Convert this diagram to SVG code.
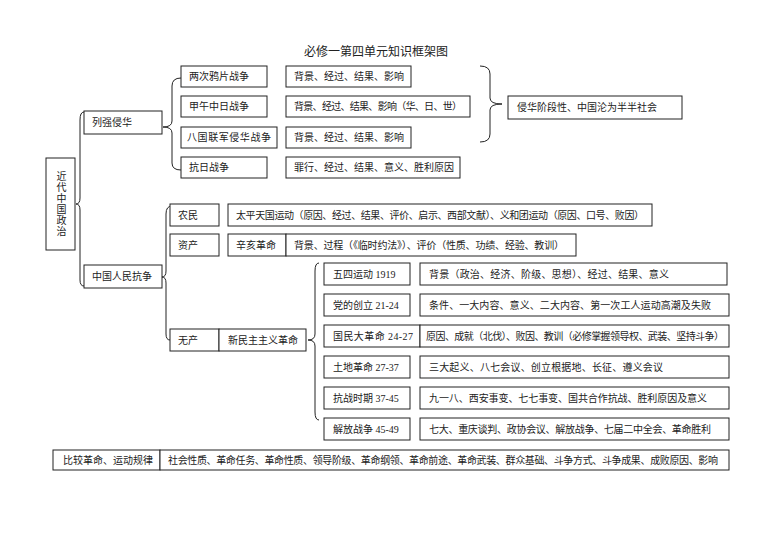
<svg xmlns="http://www.w3.org/2000/svg" width="780" height="552" viewBox="0 0 780 552">
<style>
rect{fill:#fff;stroke:#222;stroke-width:1}
text{font-family:"Liberation Serif","Noto Sans CJK SC",serif;font-size:10px;fill:#222;dominant-baseline:central}
.b{fill:none;stroke:#222;stroke-width:1}
</style>
<rect x="0" y="0" width="780" height="552" style="fill:#fff;stroke:none"/>
<text x="376" y="52" text-anchor="middle" style="font-size:12px">必修一第四单元知识框架图</text>
<g id="connectors">
<path class="b" d="M84,112 Q80,112 80,120 L80,198 Q80,204 76,204 Q80,204 80,210 L80,280 Q80,286 84,286"/>
<path class="b" d="M181,78 Q172,78 172,86 L172,121 Q172,127 163,127 Q172,127 172,133 L172,163 Q172,170 181,170"/>
<path class="b" d="M480,66 Q490,66 490,74 L490,98 Q490,104 502,104 Q490,104 490,110 L490,134 Q490,142 480,142"/>
<path class="b" d="M172,206 Q166,206 166,214 L166,271 Q166,277 162,277 Q166,277 166,283 L166,334 Q166,340 170,340"/>
<path class="b" d="M319,263 Q315,263 315,271 L315,334 Q315,340 308,340 Q315,340 315,346 L315,412 Q315,420 319,420"/>
</g>
<g id="n0"><rect x="46" y="158" width="29" height="92"/><text x="60.5" y="204" text-anchor="middle" writing-mode="tb" style="letter-spacing:1px;dominant-baseline:auto">近代中国政治</text></g>
<g id="n1"><rect x="84" y="111" width="78" height="23"/><text x="92" y="122.5">列强侵华</text></g>
<g id="n2"><rect x="84" y="265" width="78" height="23"/><text x="92" y="276.5">中国人民抗争</text></g>
<g id="a1"><rect x="181" y="66" width="86" height="21"/><text x="189" y="76.5">两次鸦片战争</text></g>
<g id="a2"><rect x="181" y="96" width="86" height="21"/><text x="189" y="106.5">甲午中日战争</text></g>
<g id="a3"><rect x="181" y="127" width="96" height="21"/><text x="187" y="137.5" textLength="84">八国联军侵华战争</text></g>
<g id="a4"><rect x="181" y="157" width="86" height="21"/><text x="189" y="167.5">抗日战争</text></g>
<g id="b1"><rect x="286" y="66" width="125" height="21"/><text x="294" y="76.5">背景、经过、结果、影响</text></g>
<g id="b2"><rect x="286" y="96" width="184" height="21"/><text x="294" y="106.5" textLength="168">背景、经过、结果、影响（华、日、世）</text></g>
<g id="b3"><rect x="286" y="127" width="125" height="21"/><text x="294" y="137.5">背景、经过、结果、影响</text></g>
<g id="b4"><rect x="286" y="157" width="174" height="21"/><text x="294" y="167.5">罪行、经过、结果、意义、胜利原因</text></g>
<g id="c1"><rect x="508" y="96" width="174" height="23"/><text x="517" y="107.5">侵华阶段性、中国沦为半半社会</text></g>
<g id="d1"><rect x="170" y="204" width="49" height="22"/><text x="178" y="215">农民</text></g>
<g id="d1b"><rect x="228" y="204" width="424" height="22"/><text x="236" y="215" textLength="408">太平天国运动（原因、经过、结果、评价、启示、西部文献）、义和团运动（原因、口号、败因）</text></g>
<g id="d2"><rect x="170" y="234" width="49" height="22"/><text x="178" y="245">资产</text></g>
<g id="d2b"><rect x="228" y="234" width="58" height="22"/><text x="236" y="245">辛亥革命</text></g>
<g id="d2c"><rect x="286" y="234" width="290" height="22"/><text x="294" y="245" textLength="270">背景、过程（《临时约法》）、评价（性质、功绩、经验、教训）</text></g>
<g id="d3"><rect x="170" y="329" width="49" height="22"/><text x="178" y="340">无产</text></g>
<g id="d3b"><rect x="219" y="329" width="87" height="22"/><text x="228" y="340" textLength="70">新民主主义革命</text></g>
<g id="e1"><rect x="324" y="263" width="86" height="22"/><text x="333" y="274">五四运动 1919</text></g>
<g id="e2"><rect x="324" y="294" width="86" height="22"/><text x="333" y="305">党的创立 21-24</text></g>
<g id="e3"><rect x="324" y="325" width="96" height="22"/><text x="333" y="336" textLength="80">国民大革命 24-27</text></g>
<g id="e4"><rect x="324" y="356" width="86" height="22"/><text x="333" y="367">土地革命 27-37</text></g>
<g id="e5"><rect x="324" y="387" width="86" height="22"/><text x="333" y="398">抗战时期 37-45</text></g>
<g id="e6"><rect x="324" y="418" width="86" height="22"/><text x="333" y="429">解放战争 45-49</text></g>
<g id="f1"><rect x="420" y="263" width="307" height="22"/><text x="429" y="274" textLength="240">背景（政治、经济、阶级、思想）、经过、结果、意义</text></g>
<g id="f2"><rect x="420" y="294" width="309" height="22"/><text x="429" y="305" textLength="282">条件、一大内容、意义、二大内容、第一次工人运动高潮及失败</text></g>
<g id="f3"><rect x="420" y="325" width="309" height="22"/><text x="426" y="336" textLength="298">原因、成就（北伐）、败因、教训（必修掌握领导权、武装、坚持斗争）</text></g>
<g id="f4"><rect x="420" y="356" width="309" height="22"/><text x="429" y="367" textLength="234">三大起义、八七会议、创立根据地、长征、遵义会议</text></g>
<g id="f5"><rect x="420" y="387" width="309" height="22"/><text x="429" y="398" textLength="278">九一八、西安事变、七七事变、国共合作抗战、胜利原因及意义</text></g>
<g id="f6"><rect x="420" y="418" width="309" height="22"/><text x="429" y="429" textLength="282">七大、重庆谈判、政协会议、解放战争、七届二中全会、革命胜利</text></g>
<g id="g1"><rect x="53" y="450" width="107" height="20"/><text x="63" y="460" textLength="90">比较革命、运动规律</text></g>
<g id="g2"><rect x="160" y="450" width="569" height="20"/><text x="168" y="460" textLength="550">社会性质、革命任务、革命性质、领导阶级、革命纲领、革命前途、革命武装、群众基础、斗争方式、斗争成果、成败原因、影响</text></g>
</svg>
